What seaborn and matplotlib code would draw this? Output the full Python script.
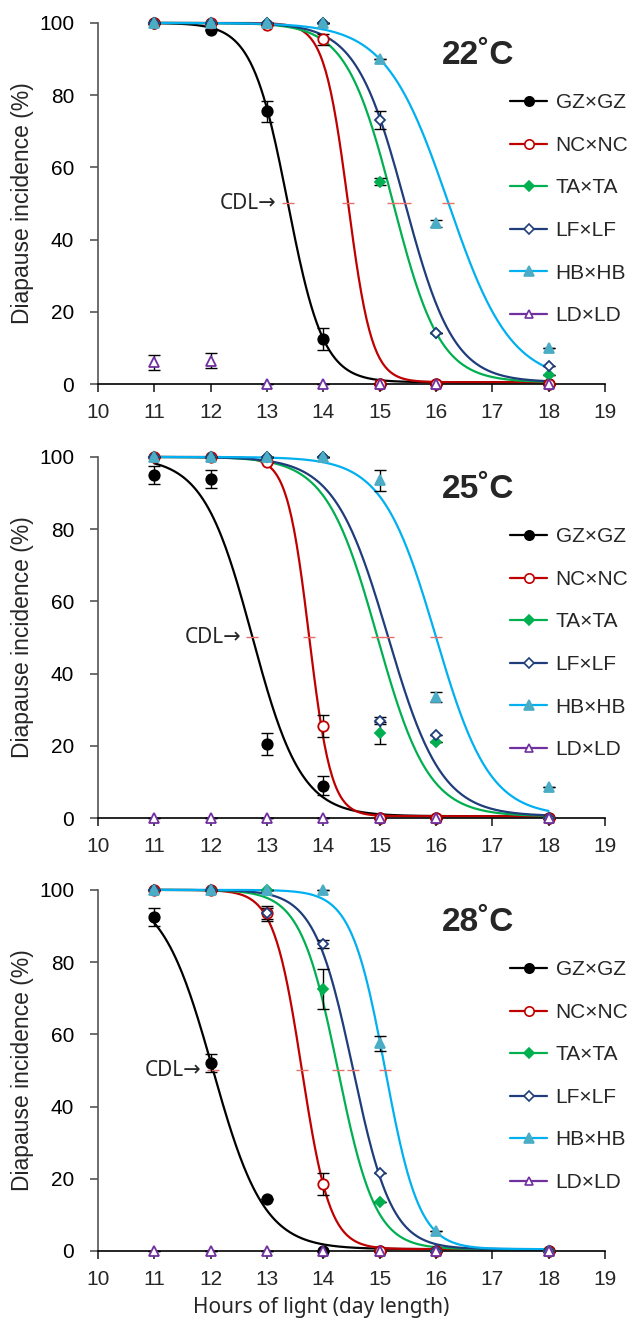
import numpy as np
import pandas as pd
import matplotlib
matplotlib.use('Agg')
import matplotlib.pyplot as plt
import seaborn as sns

# Photoperiodic response curves at three temperatures

hours = [11, 12, 13, 14, 15, 16, 18]
crosses = ['GZ×GZ', 'NC×NC', 'TA×TA', 'LF×LF', 'HB×HB', 'LD×LD']
temps = ['22˚C', '25˚C', '28˚C']

# diapause incidence (%) per cross, rows follow `crosses`
incidence_22 = [
    [100, 98, 75.5, 12.5, 0, 0, 0],
    [100, 100, 99.5, 95.5, 0, 0, 0],
    [100, 100, 100, 100, 56, 14, 2.5],
    [100, 100, 100, 100, 73, 14, 5],
    [100, 100, 100, 100, 90, 44.5, 10],
    [6, 6.5, 0, 0, 0, 0, 0],
]
error_22 = [
    [0, 0, 3, 3, 0, 0, 0],
    [0, 0, 0, 1.5, 0, 0, 0],
    [0, 0, 0, 0, 1, 0, 0],
    [0, 0, 0, 0, 2.5, 0, 0],
    [0, 0, 0, 0, 0, 1, 0],
    [2, 2, 0, 0, 0, 0, 0],
]

incidence_25 = [
    [95, 94, 20.5, 9, 0, 0, 0],
    [100, 100, 98.5, 25.5, 0, 0, 0],
    [100, 100, 100, 100, 23.5, 21, 0],
    [100, 100, 100, 100, 27, 23, 0],
    [100, 100, 100, 100, 93.5, 33.5, 8.5],
    [0, 0, 0, 0, 0, 0, 0],
]
error_25 = [
    [2.5, 2.5, 3, 2.5, 0, 0, 0],
    [0, 0, 0, 3, 0, 0, 0],
    [0, 0, 0, 0, 3, 0, 0],
    [0, 0, 0, 0, 1, 0, 0],
    [0, 0, 0, 0, 3, 1.5, 0],
    [0, 0, 0, 0, 0, 0, 0],
]

incidence_28 = [
    [92.5, 52, 14.5, 0, 0, 0, 0],
    [100, 100, 93.5, 18.5, 0, 0, 0],
    [100, 100, 100, 72.5, 13.5, 0, 0],
    [100, 100, 93.5, 85, 21.5, 0, 0],
    [100, 100, 100, 100, 57.5, 5.5, 0],
    [0, 0, 0, 0, 0, 0, 0],
]
error_28 = [
    [2.5, 2.5, 0, 0, 0, 0, 0],
    [0, 0, 2, 3, 0, 0, 0],
    [0, 0, 0, 5.5, 0, 0, 0],
    [0, 0, 1.5, 1, 0, 0, 0],
    [0, 0, 0, 0, 2, 0, 0],
    [0, 0, 0, 0, 0, 0, 0],
]

# fitted logistic curves: critical day length (50 %) and steepness
cdl_22 = [13.37, 14.44, 15.24, 15.45, 16.22]
slope_22 = [3.15, 4.7, 2.4, 2.3, 1.8]
cdl_25 = [12.74, 13.75, 14.96, 15.15, 16.0]
slope_25 = [2.3, 5.1, 2.2, 2.1, 2.1]
cdl_28 = [12.04, 13.62, 14.26, 14.53, 15.1]
slope_28 = [2.2, 4.0, 3.0, 2.9, 3.3]

line_colors = ['black', '#c00000', '#00b050', '#1f3d7a', '#00b0f0', '#7030a0']
marker_colors = ['black', '#c00000', '#00b050', '#1f3d7a', '#4bacc6', '#7030a0']
face_colors = ['black', 'white', '#00b050', 'white', '#4bacc6', 'white']
markers = ['o', 'o', 'D', 'D', '^', '^']
msizes = [7.5, 7.5, 5.5, 5.5, 7.5, 7]

sns.set_style('ticks')
plt.rcParams['font.family'] = ['Liberation Sans', 'DejaVu Sans']

fig = plt.figure(figsize=(6.32, 13.26), dpi=100)
boxes = [(0.155, 0.7104, 0.802, 0.2723),
         (0.155, 0.3831, 0.802, 0.2723),
         (0.155, 0.0566, 0.802, 0.2723)]

panels = [(incidence_22, error_22, cdl_22, slope_22),
          (incidence_25, error_25, cdl_25, slope_25),
          (incidence_28, error_28, cdl_28, slope_28)]

xs = np.linspace(11, 18, 300)

for p, (inc, err, cdl, k) in enumerate(panels):
    ax = fig.add_axes(boxes[p])

    # fitted curves
    for i in range(5):
        fit = pd.DataFrame({'x': xs,
                            'y': 0.5 + 99.5 / (1 + np.exp(k[i] * (xs - cdl[i])))})
        sns.lineplot(data=fit, x='x', y='y', ax=ax, color=line_colors[i],
                     lw=1.6, zorder=2, clip_on=False)

    # CDL marks at 50 %
    ax.plot(cdl, [50] * len(cdl), ls='none', marker='_', ms=9, mew=1.0,
            color='#e8706a', zorder=3)
    ax.text(cdl[0] - 0.2, 50, 'CDL→', ha='right', va='center', fontsize=15,
            family=['Noto Sans', 'DejaVu Sans'])

    # observed points with error bars
    for i in range(6):
        ax.errorbar(hours, inc[i], yerr=err[i], fmt='none', ecolor='black',
                    elinewidth=1.0, capsize=4, capthick=1.0, zorder=4,
                    clip_on=False)
        ax.plot(hours, inc[i], ls='none', marker=markers[i], ms=msizes[i],
                mfc=face_colors[i], mec=marker_colors[i], mew=1.3,
                zorder=5, clip_on=False)

    # legend handles
    handles = []
    for i in range(6):
        h, = ax.plot([], [], color=line_colors[i], lw=1.6, marker=markers[i],
                     ms=msizes[i] * 0.9, mfc=face_colors[i],
                     mec=marker_colors[i], mew=1.2)
        handles.append(h)
    ax.legend(handles, crosses, loc='upper left', bbox_to_anchor=(0.796, 0.828),
              frameon=False, fontsize=15, labelspacing=1.13, handlelength=1.8,
              handletextpad=0.4, borderaxespad=0)

    ax.text(0.75, 0.91, temps[p], transform=ax.transAxes, ha='center',
            va='center', fontsize=24, fontweight='bold')

    ax.set_xlim(10, 19)
    ax.set_ylim(0, 100)
    ax.set_xticks(range(10, 20))
    ax.set_yticks(range(0, 101, 20))
    ax.tick_params(axis='x', direction='out', length=6, width=1.2,
                   labelsize=15, pad=8)
    ax.tick_params(axis='y', direction='out', length=6, width=1.2,
                   labelsize=15, pad=11, colors='#555555', labelcolor='black')
    ax.spines['left'].set_color('#555555')
    ax.spines['bottom'].set_color('black')
    for s in ['left', 'bottom']:
        ax.spines[s].set_linewidth(1.2)
    sns.despine(ax=ax)
    ax.set_ylabel('Diapause incidence (%)', fontsize=16.5, labelpad=4)
    if p == 2:
        ax.set_xlabel('Hours of light (day length)', fontsize=15,
                      family=['Noto Sans', 'DejaVu Sans'])
        ax.xaxis.label.set_va('center')
        ax.xaxis.set_label_coords(0.44, -0.158)
    else:
        ax.set_xlabel('')

fig.savefig('out.png', dpi=100)
